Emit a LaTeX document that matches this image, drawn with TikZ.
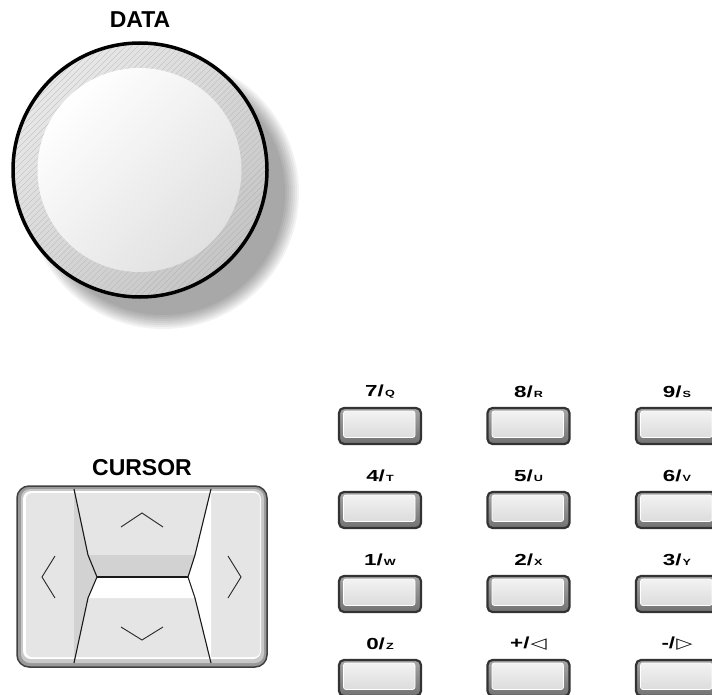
\documentclass[tikz,border=0pt]{standalone}
\usepackage{fontspec}
\setmainfont{Liberation Sans}
\newfontfamily\symfont{DejaVu Sans}
\usepackage{graphicx}
\usetikzlibrary{positioning}

\tikzset{
	title/.style={inner sep=0pt, font=\bfseries\fontsize{23}{25}\selectfont},
	keylabel/.style={inner sep=0pt, font=\bfseries},
	keybox/.style={rectangle, rounded corners=5pt, draw=black!80, line width=2.2pt,
		top color=gray!70, bottom color=black!55, minimum width=82pt, minimum height=36pt, inner sep=0pt,
		path picture={\draw[white, line width=0.8pt, top color=gray!8, bottom color=gray!32, rounded corners=2.5pt]
			([xshift=4.5pt,yshift=-3pt]path picture bounding box.north west) rectangle
			([xshift=-6pt,yshift=6.5pt]path picture bounding box.south east);}},
	padline/.style={line width=1.1pt, black!90, line join=round},
	chevron/.style={line width=0.9pt, black!85}
}
\newcommand{\keytext}[2]{\scalebox{1.4}[1]{\fontsize{16}{17}\selectfont #1/\hspace{0.8pt}{\fontsize{9}{10}\selectfont #2}}}
\newcommand{\keytri}{\fontsize{15}{15}\selectfont\mdseries\symfont}

\begin{document}
\begin{tikzpicture}[x=1pt,y=-1pt]
\useasboundingbox (0,0) rectangle (712,695);
\clip (0,0) rectangle (712,695);

% DATA knob
\node[title] (data) at (140,20) {DATA};
\foreach \r in {122,124,...,136}
	\fill[black, opacity=0.05] (163,193) circle (\r);
\shade[top color=gray!18, bottom color=gray!45, shading angle=45] (140,170) circle (127);
\begin{scope}
	\clip (140,170) circle (127);
	\foreach \d in {-270,-264,...,270}
		\draw[gray!60, line width=0.35pt] (\d,310) -- (\d+280,30);
\end{scope}
\shade[top color=white, bottom color=gray!24, shading angle=45] (139.5,170) circle (102);
\draw[line width=3.5pt] (140,170) circle (127);

% CURSOR pad
\node[title] (cursor) at (142,468) {CURSOR};
\filldraw[fill=gray!80, draw=black!75, line width=1.5pt, rounded corners=12pt] (17,486) rectangle (267,667);
\fill[gray!43, rounded corners=9pt] (21,489) rectangle (264,663);
\fill[white, rounded corners=8pt] (23,491) rectangle (261,659);
\fill[gray!20, rounded corners=6pt] (26,493) rectangle (260,657);
\fill[gray!35] (74,490) -- (88,555) -- (97,577) -- (88,598) -- (74,663) -- cycle;
\fill[gray!35] (88,555) -- (195,555) -- (188,577) -- (97,577) -- cycle;
\fill[white] (97,577) -- (188,577) -- (195,598) -- (88,598) -- cycle;
\fill[white] (211,490) -- (195,555) -- (188,577) -- (195,598) -- (211,663) -- cycle;
\draw[padline] (74,489) -- (88,555) -- (97,577) -- (88,598) -- (74,663);
\draw[padline] (211,489) -- (195,555) -- (188,577) -- (195,598) -- (211,663);
\draw[padline, line width=1.5pt] (97,577) -- (188,577);
\draw[chevron] (121,527) -- (142,513) -- (163,527);
\draw[chevron] (121,627) -- (142,640) -- (163,627);
\draw[chevron] (55,556) -- (42,577) -- (55,598);
\draw[chevron] (228,556) -- (241,577) -- (228,598);

% keypad
\foreach \kname/\knum/\klet/\col/\row in {
	seven/7/Q/0/0, eight/8/R/1/0, nine/9/S/2/0,
	four/4/T/0/1, five/5/U/1/1, six/6/V/2/1,
	one/1/W/0/2, two/2/X/1/2, three/3/Y/2/2,
	zero/0/Z/0/3, plus/+/{\keytri ◁}/1/3, minus/-/{\keytri ▷}/2/3}
{
	\node[keybox] (key-\kname) at (380+148.5*\col, 426+84*\row) {};
	\node[keylabel, above=8.5pt of key-\kname] (lab-\kname) {\keytext{\knum}{\klet}};
}
\end{tikzpicture}
\end{document}
